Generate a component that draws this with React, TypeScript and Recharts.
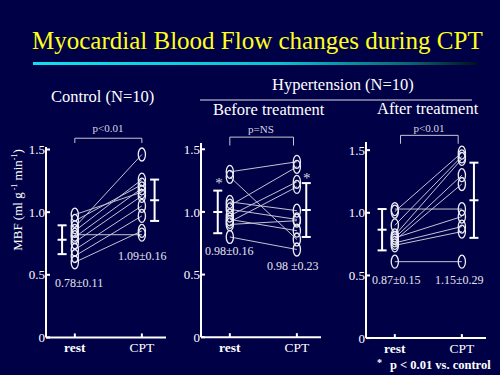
import React from 'react';
import { ComposedChart, Line, Scatter, ErrorBar, XAxis, YAxis, ReferenceLine } from 'recharts';

// ---------- data ----------
const categories = ['rest', 'CPT'];
const yTicks = [0, 0.5, 1, 1.5];

const controlRest = [0.98, 0.93, 0.88, 0.85, 0.82, 0.8, 0.76, 0.7, 0.65, 0.6];
const controlCpt = [1.16, 1.22, 1.46, 1.26, 0.82, 1.19, 1.13, 1.05, 0.97, 0.85];
const beforeRest = [1.32, 1.28, 1.08, 1.05, 1.02, 0.97, 0.94, 0.92, 0.9, 0.8];
const beforeCpt = [1.4, 0.78, 1.01, 1.36, 0.94, 1.24, 0.85, 1.2, 0.93, 0.7];
const afterRest = [1.03, 1.01, 0.9, 0.82, 0.8, 0.78, 0.8, 0.76, 0.74, 0.61];
const afterCpt = [1.03, 1.48, 1.45, 1.43, 1.3, 1.23, 0.97, 0.89, 0.85, 0.61];

const controlMean = [0.78, 1.095];
const controlSd = [0.115, 0.165];
const beforeMean = [1.0, 1.015];
const beforeSd = [0.17, 0.215];
const afterMean = [0.865, 1.1];
const afterSd = [0.165, 0.3];

const controlStats = ['0.78\u00b10.11', '1.09\u00b10.16'];
const beforeStats = ['0.98\u00b10.16', '0.98 \u00b10.23'];
const afterStats = ['0.87\u00b10.15', '1.15\u00b10.29'];
const pLabels = ['p<0.01', 'p=NS', 'p<0.01'];

const titleText = 'Myocardial Blood Flow changes during CPT';
const groupLabels = ['Control (N=10)', 'Hypertension (N=10)', 'Before treatment', 'After treatment'];
const footnote = 'p < 0.01 vs. control';

// ---------- layout / style ----------
const BG = '#000046';
const SERIF = '"Liberation Serif", "Times New Roman", Times, serif';
const PPU = 125.3;
const Y0 = 337.7;
const PLOT_W = 120;
const YW = 30;
const XH = 25;
const MT = 30;
const MR = 20;
const MB = 5;
const X_DOMAIN: [number, number] = [-0.43, 1.36];

type PanelCfg = {
  axisX: number;
  top: number;
  rest: number[];
  cpt: number[];
  mean: number[];
  sd: number[];
  errX: [number, number];
  bracket: { x1: number; x2: number; y: number; leg: number };
};

const panels: PanelCfg[] = [
  {
    axisX: 46, top: 1.52, rest: controlRest, cpt: controlCpt, mean: controlMean, sd: controlSd,
    errX: [-0.19, 1.19], bracket: { x1: 0, x2: 1, y: 1.59, leg: 1.552 },
  },
  {
    axisX: 200.7, top: 1.55, rest: beforeRest, cpt: beforeCpt, mean: beforeMean, sd: beforeSd,
    errX: [-0.18, 1.14], bracket: { x1: 0, x2: 0.95, y: 1.597, leg: 1.53 },
  },
  {
    axisX: 366, top: 1.565, rest: afterRest, cpt: afterCpt, mean: afterMean, sd: afterSd,
    errX: [-0.19, 1.18], bracket: { x1: 0.085, x2: 0.945, y: 1.618, leg: 1.551 },
  },
];

const EllipseDot = (props: any) => {
  const { cx, cy } = props;
  if (cx == null || cy == null) return null;
  return <ellipse cx={cx} cy={cy} rx={3.6} ry={6.5} fill="none" stroke="#ececf4" strokeWidth={1.3} />;
};

const MeanMark = (props: any) => {
  const { cx, cy } = props;
  return <line x1={cx - 4.5} x2={cx + 4.5} y1={cy} y2={cy} stroke="#ffffff" strokeWidth={2} />;
};

const XTick = (props: any) => {
  const { x, y, payload } = props;
  const label = categories[payload.value] ?? '';
  return (
    <text x={x} y={y} dy="0.71em" textAnchor="middle" fill="#ffffff" fontFamily={SERIF} fontSize={13.5}
      fontWeight={label === 'rest' ? 'bold' : 'normal'}>
      {label}
    </text>
  );
};

const Panel = ({ cfg }: { cfg: PanelCfg }) => {
  const plotH = cfg.top * PPU;
  const chartTop = Y0 - plotH - MT;
  const H = MT + plotH + XH + MB;
  const W = YW + PLOT_W + MR;
  const left = cfg.axisX - YW;
  const errData = [0, 1].map((i) => ({ x: cfg.errX[i], y: cfg.mean[i], e: cfg.sd[i] }));
  const b = cfg.bracket;
  const bracketStroke = '#c8c8d4';
  return (
    <div style={{ position: 'absolute', left, top: chartTop, width: W, height: H }}>
      <ComposedChart width={W} height={H} margin={{ top: MT, right: MR, bottom: MB, left: 0 }}>
        <XAxis
          type="number"
          dataKey="x"
          domain={X_DOMAIN}
          allowDataOverflow
          ticks={[0, 1]}
          tick={<XTick />}
          tickSize={-4}
          tickMargin={9}
          height={XH}
          axisLine={{ stroke: '#ffffff', strokeWidth: 2 }}
          tickLine={{ stroke: '#ffffff', strokeWidth: 2 }}
          interval={0}
        />
        <YAxis
          type="number"
          dataKey="y"
          domain={[0, cfg.top]}
          allowDataOverflow
          ticks={yTicks}
          tickFormatter={(v: number) => (v === 0 ? '0' : v.toFixed(1))}
          width={YW}
          tickSize={-4}
          tickMargin={5}
          interval={0}
          tick={{ fill: '#ffffff', fontFamily: SERIF, fontSize: 13 }}
          axisLine={{ stroke: '#ffffff', strokeWidth: 2 }}
          tickLine={{ stroke: '#ffffff', strokeWidth: 2 }}
        />
        {cfg.rest.map((r, i) => (
          <Line
            key={`pair-${i}`}
            data={[{ x: 0, y: r }, { x: 1, y: cfg.cpt[i] }]}
            dataKey="y"
            type="linear"
            stroke="#c4c4d2"
            strokeWidth={1}
            dot={<EllipseDot />}
            activeDot={false}
            isAnimationActive={false}
          />
        ))}
        <Scatter data={errData} dataKey="y" shape={<MeanMark />} isAnimationActive={false}>
          <ErrorBar dataKey="e" direction="y" width={4.5} stroke="#ffffff" strokeWidth={2} isAnimationActive={false} />
        </Scatter>
        <ReferenceLine ifOverflow="visible" stroke={bracketStroke} strokeWidth={1}
          segment={[{ x: b.x1, y: b.y }, { x: b.x2, y: b.y }]} />
        <ReferenceLine ifOverflow="visible" stroke={bracketStroke} strokeWidth={1}
          segment={[{ x: b.x1, y: b.y }, { x: b.x1, y: b.leg }]} />
        <ReferenceLine ifOverflow="visible" stroke={bracketStroke} strokeWidth={1}
          segment={[{ x: b.x2, y: b.y }, { x: b.x2, y: b.leg }]} />
      </ComposedChart>
    </div>
  );
};

const Overlay = () => {
  const txt = { fill: '#ffffff', fontFamily: SERIF };
  const small = { fill: '#e4e4ec', fontFamily: SERIF, fontSize: 12 };
  const pStyle = { fill: '#d8d8e0', fontFamily: SERIF, fontSize: 11 };
  return (
    <svg width={500} height={375} style={{ position: 'absolute', left: 0, top: 0, pointerEvents: 'none' }}>
      <defs>
        <linearGradient id="rule" x1="0" x2="1" y1="0" y2="0">
          <stop offset="0" stopColor="#10e0ee" />
          <stop offset="0.55" stopColor="#08c4d4" />
          <stop offset="0.85" stopColor="#0a6670" />
          <stop offset="1" stopColor="#001020" />
        </linearGradient>
      </defs>
      <text x={32} y={49} fill="#ffff1a" fontFamily={SERIF} fontSize={25}>{titleText}</text>
      <rect x={33} y={62} width={444} height={3} fill="url(#rule)" />
      <text x={51} y={101.5} {...txt} fontSize={16.5}>{groupLabels[0]}</text>
      <text x={272} y={89.5} {...txt} fontSize={16.5}>{groupLabels[1]}</text>
      <line x1={200} x2={472} y1={100} y2={100} stroke="#e0e0e8" strokeWidth={1.2} />
      <text x={213} y={115} {...txt} fontSize={16.5}>{groupLabels[2]}</text>
      <text x={377} y={113.5} {...txt} fontSize={16.5}>{groupLabels[3]}</text>

      <text transform="translate(21.5,200) rotate(-90)" textAnchor="middle" {...txt} fontSize={13}>
        MBF (ml g<tspan dy={-5} fontSize={8}> -1</tspan><tspan dy={5}> min</tspan>
        <tspan dy={-5} fontSize={8}>-1</tspan><tspan dy={5}>)</tspan>
      </text>

      <text x={108} y={132} textAnchor="middle" {...pStyle}>{pLabels[0]}</text>
      <text x={261} y={133} textAnchor="middle" {...pStyle}>{pLabels[1]}</text>
      <text x={429} y={131.5} textAnchor="middle" {...pStyle}>{pLabels[2]}</text>

      <text x={55} y={287} {...small}>{controlStats[0]}</text>
      <text x={118} y={260} {...small}>{controlStats[1]}</text>
      <text x={205} y={255} {...small}>{beforeStats[0]}</text>
      <text x={267} y={270} {...small}>{beforeStats[1]}</text>
      <text x={372} y={284} {...small}>{afterStats[0]}</text>
      <text x={435} y={284} {...small}>{afterStats[1]}</text>

      <text x={219} y={188} textAnchor="middle" fill="#d8d8e0" fontFamily={SERIF} fontSize={15}>*</text>
      <text x={306.7} y={183} textAnchor="middle" fill="#d8d8e0" fontFamily={SERIF} fontSize={15}>*</text>

      <text x={379.5} y={366} textAnchor="middle" fill="#ffffff" fontFamily={SERIF} fontSize={10} fontWeight="bold">*</text>
      <text x={390} y={369} fill="#ffffff" fontFamily={SERIF} fontSize={12.5} fontWeight="bold">{footnote}</text>
    </svg>
  );
};

export default function App() {
  return (
    <div style={{ position: 'absolute', left: 0, top: 0, width: 500, height: 375, background: BG, overflow: 'hidden' }}>
      {panels.map((p, i) => (
        <Panel key={i} cfg={p} />
      ))}
      <Overlay />
    </div>
  );
}
